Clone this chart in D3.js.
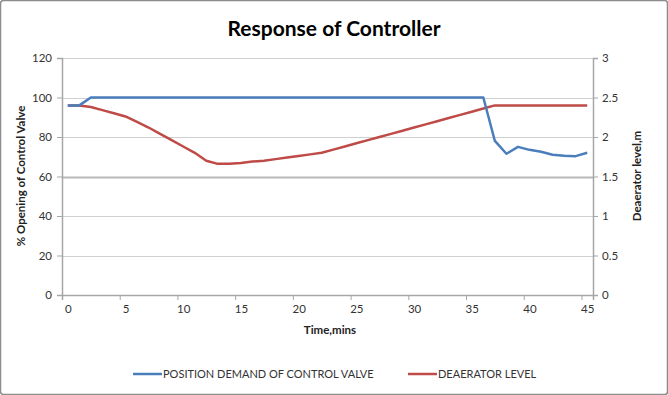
<!DOCTYPE html>
<html><head><meta charset="utf-8">
<script src="https://cdn.jsdelivr.net/npm/d3@7"></script>
<style>body{margin:0;background:#fff}svg{display:block}</style>
</head><body>
<script>
const categories = d3.range(0, 46);
const xTickLabels = [0,5,10,15,20,25,30,35,40,45];
const valvePosition = [96,96,100,100,100,100,100,100,100,100,
  100,100,100,100,100,100,100,100,100,100,
  100,100,100,100,100,100,100,100,100,100,
  100,100,100,100,100,100,100,78,71.5,75,
  73.5,72.5,71,70.5,70.3,72];
const deaeratorLevel = [2.40,2.40,2.38,2.34,2.30,2.26,2.19,2.12,2.04,1.96,
  1.88,1.80,1.70,1.66,1.66,1.67,1.69,1.70,1.72,1.74,
  1.76,1.78,1.80,1.84,1.88,1.92,1.96,2.00,2.04,2.08,
  2.12,2.16,2.20,2.24,2.28,2.32,2.36,2.40,2.40,2.40,
  2.40,2.40,2.40,2.40,2.40,2.40];
const leftTicks = [0,20,40,60,80,100,120];
const rightTicks = [0,0.5,1,1.5,2,2.5,3];

const W = 668, H = 395;
const L = 62, R = 593, T = 58, B = 295;
const font = "Lato, 'Open Sans', sans-serif";

const svg = d3.select("body").append("svg").attr("width", W).attr("height", H);
svg.append("rect").attr("x",0.5).attr("y",0.5).attr("width",W-1).attr("height",H-1)
  .attr("fill","#fff").attr("stroke","#8c8c8c").attr("stroke-width",1.5).attr("rx",3);

const x = d3.scaleLinear().domain([-0.5, categories.length - 0.5]).range([L, R]);
const yL = d3.scaleLinear().domain([0, 120]).range([B, T]);
const yR = d3.scaleLinear().domain([0, 3]).range([B, T]);

// gridlines
svg.append("g").selectAll("line").data(leftTicks.slice(1)).join("line")
  .attr("x1", L).attr("x2", R)
  .attr("y1", d => Math.round(yL(d)) + 0.5).attr("y2", d => Math.round(yL(d)) + 0.5)
  .attr("stroke", d => d === 60 ? "#b8b8b8" : "#d0d0d0")
  .attr("stroke-width", d => d === 60 ? 2 : 1);

// left axis
const gL = svg.append("g").attr("transform", `translate(${L},0)`)
  .call(d3.axisLeft(yL).tickValues(leftTicks).tickSize(5).tickPadding(5));
// right axis
const gR = svg.append("g").attr("transform", `translate(${R},0)`)
  .call(d3.axisRight(yR).tickValues(rightTicks).tickSize(5).tickPadding(4).tickFormat(d3.format("")));
// bottom tick marks (between categories)
const gBt = svg.append("g").attr("transform", `translate(0,${B})`)
  .call(d3.axisBottom(x).tickValues(xTickLabels.map(d => d - 0.5)).tickSize(5).tickFormat(""));
// bottom labels
const gBl = svg.append("g").attr("transform", `translate(0,${B})`)
  .call(d3.axisBottom(x).tickValues(xTickLabels).tickSize(0).tickPadding(10).tickFormat(d3.format("d")));
gBl.select(".domain").remove();

[gL, gR, gBt, gBl].forEach(g => {
  g.selectAll(".domain").attr("stroke", "#a6a6a6").attr("stroke-width", 1.5);
  g.selectAll(".tick line").attr("stroke", "#a6a6a6");
  g.selectAll("text").attr("font-family", font).attr("font-size", 11.5).attr("fill", "#333");
});

// lines
const lineL = d3.line().x((d, i) => x(categories[i])).y(d => yL(d));
const lineR = d3.line().x((d, i) => x(categories[i])).y(d => yR(d));
svg.append("path").datum(deaeratorLevel).attr("d", lineR)
  .attr("fill", "none").attr("stroke", "#be4b48").attr("stroke-width", 2.5).attr("stroke-linejoin","round");
svg.append("path").datum(valvePosition).attr("d", lineL)
  .attr("fill", "none").attr("stroke", "#4a7ebb").attr("stroke-width", 2.5).attr("stroke-linejoin","round");

// titles
svg.append("text").attr("x", 334).attr("y", 36).attr("text-anchor", "middle")
  .attr("font-family", font).attr("font-weight", "bold").attr("font-size", 21).attr("fill", "#000")
  .text("Response of Controller");
svg.append("text").attr("x", 330).attr("y", 334).attr("text-anchor", "middle")
  .attr("font-family", font).attr("font-weight", "bold").attr("font-size", 11.5).attr("fill", "#222")
  .text("Time,mins");
svg.append("text").attr("transform", "translate(25,176) rotate(-90)").attr("text-anchor", "middle")
  .attr("font-family", font).attr("font-weight", "bold").attr("font-size", 11.5).attr("fill", "#222")
  .text("% Opening of Control Valve");
svg.append("text").attr("transform", "translate(641,176) rotate(-90)").attr("text-anchor", "middle")
  .attr("font-family", font).attr("font-weight", "bold").attr("font-size", 11.5).attr("fill", "#222")
  .text("Deaerator level,m");

// legend
const legend = [
  {name: "POSITION DEMAND OF CONTROL VALVE", color: "#4a7ebb", x: 133},
  {name: "DEAERATOR LEVEL", color: "#be4b48", x: 408}
];
const lg = svg.append("g").selectAll("g").data(legend).join("g")
  .attr("transform", d => `translate(${d.x},374)`);
lg.append("line").attr("x1", 0).attr("x2", 29).attr("y1", 0).attr("y2", 0)
  .attr("stroke", d => d.color).attr("stroke-width", 2.5);
lg.append("text").attr("x", 30).attr("y", 4).attr("font-family", font).attr("font-size", 11)
  .attr("fill", "#333").text(d => d.name);
</script>
</body></html>
